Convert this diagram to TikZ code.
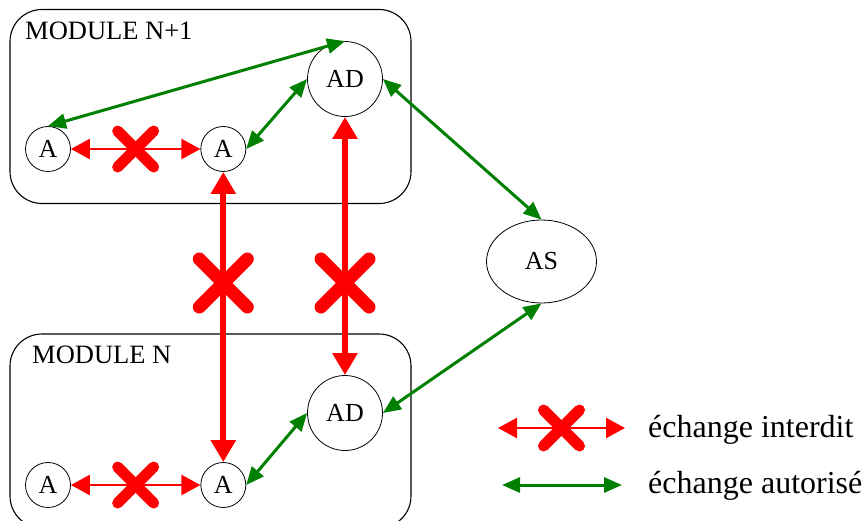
\documentclass[tikz,border=0pt]{standalone}
\usepackage{fontspec}
\setmainfont{Liberation Serif}
\usepackage{tikz}
\usetikzlibrary{arrows.meta}
\usetikzlibrary{positioning}
\usepgflibrary{shapes.geometric}
\definecolor{rouge}{RGB}{255,0,0}
\definecolor{vert}{RGB}{0,128,0}
\tikzset{
  module/.style={draw,line width=1.1pt,rounded corners=32pt,minimum width=401pt,minimum height=194pt},
  titre/.style={anchor=base west,inner sep=0pt,font=\fontsize{26.5}{30}\selectfont},
  agent/.style={draw,circle,line width=0.8pt,inner sep=0pt,minimum size=45pt,font=\fontsize{26}{30}\selectfont},
  agentd/.style={agent,minimum size=75pt},
  interdit/.style={rouge,line width=2.5pt,{Triangle[length=19pt,width=20pt]}-{Triangle[length=19pt,width=20pt]}},
  interditfort/.style={rouge,line width=6pt,{Triangle[length=22pt,width=24pt]}-{Triangle[length=22pt,width=24pt]}},
  autorise/.style={vert,line width=3pt,{Triangle[length=18pt,width=15pt]}-{Triangle[length=18pt,width=15pt]}},
  croix/.style={rouge,line width=11pt,line cap=round},
  croixfort/.style={rouge,line width=13pt,line cap=round},
  legende/.style={anchor=base west,inner sep=0pt,font=\fontsize{32}{36}\selectfont}
}
\begin{document}
\begin{tikzpicture}[x=1pt,y=-1pt]
  \useasboundingbox (0,0) rectangle (866,520);
  % modules
  \node[module](modsup) at (210.5,106.5) {};
  \node[module](modinf) at (210.5,431) {};
  \node[titre] (titsup) at (25,39) {MODULE N+1};
  \node[titre] (titinf) at (32,363) {MODULE N};
  % agents
  \node[agent](asup) at (48,149) {A};
  \node[agent,right=129.5pt of asup](bsup) {A};
  \node[agentd](adsup) at (345,79) {AD};
  \node[agent](ainf) at (48,485) {A};
  \node[agent,right=129.5pt of ainf](binf) {A};
  \node[agentd](adinf) at (345,413) {AD};
  \node[draw,ellipse,line width=0.8pt,minimum width=110pt,minimum height=83pt,font=\fontsize{26}{30}\selectfont](as) at (541.5,261.5) {AS};
  \coordinate (niv) at (0,283);
  % echanges interdits
  \draw[interdit] (asup) -- coordinate (xsup) (bsup);
  \draw[interdit] (ainf) -- coordinate (xinf) (binf);
  \draw[interditfort] (bsup) -- (binf);
  \draw[interditfort] (adsup) -- (adinf);
  \draw[croix] (xsup) +(-18,-18) -- +(18,18) +(-18,18) -- +(18,-18);
  \draw[croix] (xinf) +(-18,-18) -- +(18,18) +(-18,18) -- +(18,-18);
  \draw[croixfort] (bsup |- niv) +(-24,-24) -- +(24,24) +(-24,24) -- +(24,-24);
  \draw[croixfort] (adsup |- niv) +(-24,-24) -- +(24,24) +(-24,24) -- +(24,-24);
  % echanges autorises
  \draw[autorise] (asup.north) -- (adsup.north);
  \draw[autorise] (bsup.east) -- (adsup.west);
  \draw[autorise] (binf.east) -- (adinf.west);
  \draw[autorise] (adsup.east) -- (as.north);
  \draw[autorise] (adinf.east) -- (as.south);
  % legende
  \coordinate (lga) at (498,428);
  \coordinate (lgb) at (625,428);
  \coordinate (lgc) at (502,485);
  \coordinate (lgd) at (622,485);
  \draw[interdit] (lga) -- coordinate (xleg) (lgb);
  \draw[croix] (xleg) +(-18,-18) -- +(18,18) +(-18,18) -- +(18,-18);
  \draw[autorise] (lgc) -- (lgd);
  \node[legende](txtint) at (648,437) {échange interdit};
  \node[legende](txtaut) at (648,493) {échange autorisé};
\end{tikzpicture}
\end{document}
